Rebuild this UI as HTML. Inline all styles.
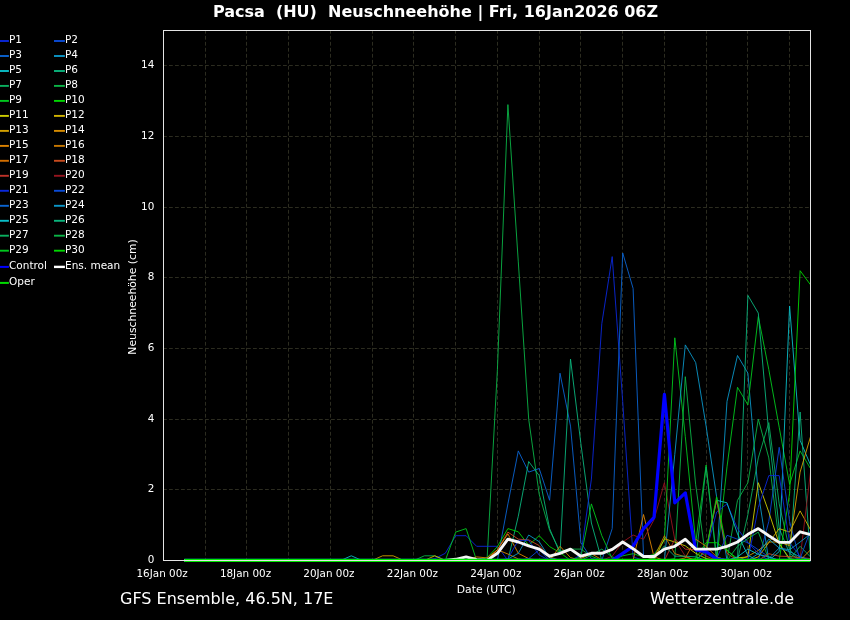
<!DOCTYPE html><html><head><meta charset="utf-8"><title>Pacsa (HU) Neuschneehöhe</title>
<style>html,body{margin:0;padding:0;background:#000;}body{width:850px;height:620px;overflow:hidden;}svg{display:block;font-family:"DejaVu Sans","Liberation Sans",sans-serif;}</style></head><body>
<svg width="850" height="620" viewBox="0 0 850 620">
<rect width="850" height="620" fill="#000"/>
<path d="M205.5 560.5V30.5M246.5 560.5V30.5M288.5 560.5V30.5M330.5 560.5V30.5M372.5 560.5V30.5M413.5 560.5V30.5M455.5 560.5V30.5M497.5 560.5V30.5M539.5 560.5V30.5M580.5 560.5V30.5M622.5 560.5V30.5M664.5 560.5V30.5M706.5 560.5V30.5M747.5 560.5V30.5M789.5 560.5V30.5" stroke="#2c2c20" stroke-width="1" stroke-dasharray="3.8 2.2" stroke-dashoffset="1.15" fill="none"/>
<path d="M163.5 489.5H810.5M163.5 419.5H810.5M163.5 348.5H810.5M163.5 277.5H810.5M163.5 207.5H810.5M163.5 136.5H810.5M163.5 65.5H810.5" stroke="#2c2c20" stroke-width="1" stroke-dasharray="3.8 2.2" stroke-dashoffset="0.5" fill="none"/>
<defs><clipPath id="c"><rect x="163.5" y="30.5" width="647" height="532"/></clipPath></defs>
<g clip-path="url(#c)" fill="none" stroke-linejoin="round">
<polyline points="184.4,560.4 194.8,560.4 205.2,560.4 215.7,560.4 226.1,560.4 236.5,560.4 247.0,560.4 257.4,560.4 267.9,560.4 278.3,560.4 288.7,560.4 299.2,560.4 309.6,560.4 320.0,560.4 330.5,560.4 340.9,560.4 351.3,560.4 361.8,560.4 372.2,560.4 382.6,560.4 393.1,560.4 403.5,560.4 414.0,560.4 424.4,560.4 434.8,560.4 445.3,560.4 455.7,560.4 466.1,560.4 476.6,560.4 487.0,560.4 497.4,369.6 507.9,104.6 518.3,261.9 528.7,419.1 539.2,494.3 549.6,530.4 560.0,551.2 570.5,549.1 580.9,549.1 591.4,556.2 601.8,560.4 612.2,560.4 622.7,560.4 633.1,560.4 643.5,560.4 654.0,560.4 664.4,560.4 674.8,560.4 685.3,560.4 695.7,560.4 706.1,560.4 716.6,560.4 727.0,560.4 737.5,560.4 747.9,560.4 758.3,560.4 768.8,560.4 779.2,560.4 789.6,560.4 800.1,560.4 810.5,560.4" stroke="#0ab446" stroke-width="0.9"/>
<polyline points="184.4,560.4 194.8,560.4 205.2,560.4 215.7,560.4 226.1,560.4 236.5,560.4 247.0,560.4 257.4,560.4 267.9,560.4 278.3,560.4 288.7,560.4 299.2,560.4 309.6,560.4 320.0,560.4 330.5,560.4 340.9,560.4 351.3,560.4 361.8,560.4 372.2,560.4 382.6,560.4 393.1,560.4 403.5,560.4 414.0,560.4 424.4,560.4 434.8,560.4 445.3,560.4 455.7,560.4 466.1,560.4 476.6,560.4 487.0,560.4 497.4,560.4 507.9,503.9 518.3,450.9 528.7,472.1 539.2,468.5 549.6,500.3 560.0,373.2 570.5,426.1 580.9,542.7 591.4,558.6 601.8,560.4 612.2,560.4 622.7,560.4 633.1,560.4 643.5,560.4 654.0,560.4 664.4,560.4 674.8,560.4 685.3,560.4 695.7,560.4 706.1,560.4 716.6,560.4 727.0,560.4 737.5,560.4 747.9,560.4 758.3,560.4 768.8,560.4 779.2,560.4 789.6,560.4 800.1,560.4 810.5,560.4" stroke="#0a64d2" stroke-width="0.9"/>
<polyline points="184.4,560.4 194.8,560.4 205.2,560.4 215.7,560.4 226.1,560.4 236.5,560.4 247.0,560.4 257.4,560.4 267.9,560.4 278.3,560.4 288.7,560.4 299.2,560.4 309.6,560.4 320.0,560.4 330.5,560.4 340.9,560.4 351.3,560.4 361.8,560.4 372.2,560.4 382.6,560.4 393.1,560.4 403.5,560.4 414.0,560.4 424.4,560.4 434.8,560.4 445.3,560.4 455.7,560.4 466.1,560.4 476.6,560.4 487.0,560.4 497.4,560.4 507.9,560.4 518.3,516.2 528.7,461.5 539.2,475.6 549.6,528.6 560.0,553.3 570.5,359.0 580.9,443.8 591.4,523.0 601.8,560.4 612.2,560.4 622.7,560.4 633.1,560.4 643.5,560.4 654.0,560.4 664.4,560.4 674.8,560.4 685.3,560.4 695.7,560.4 706.1,560.4 716.6,560.4 727.0,560.4 737.5,560.4 747.9,560.4 758.3,560.4 768.8,560.4 779.2,560.4 789.6,560.4 800.1,560.4 810.5,560.4" stroke="#0ab47d" stroke-width="0.9"/>
<polyline points="184.4,560.4 194.8,560.4 205.2,560.4 215.7,560.4 226.1,560.4 236.5,560.4 247.0,560.4 257.4,560.4 267.9,560.4 278.3,560.4 288.7,560.4 299.2,560.4 309.6,560.4 320.0,560.4 330.5,560.4 340.9,560.4 351.3,560.4 361.8,560.4 372.2,560.4 382.6,560.4 393.1,560.4 403.5,560.4 414.0,560.4 424.4,560.4 434.8,560.4 445.3,560.4 455.7,560.4 466.1,560.4 476.6,560.4 487.0,560.4 497.4,560.4 507.9,560.4 518.3,560.4 528.7,560.4 539.2,560.4 549.6,560.4 560.0,560.4 570.5,560.4 580.9,555.1 591.4,479.1 601.8,323.7 612.2,256.6 622.7,401.4 633.1,556.9 643.5,560.4 654.0,560.4 664.4,560.4 674.8,560.4 685.3,560.4 695.7,560.4 706.1,560.4 716.6,560.4 727.0,560.4 737.5,560.4 747.9,560.4 758.3,560.4 768.8,560.4 779.2,560.4 789.6,560.4 800.1,560.4 810.5,560.4" stroke="#0a28dc" stroke-width="0.9"/>
<polyline points="184.4,560.4 194.8,560.4 205.2,560.4 215.7,560.4 226.1,560.4 236.5,560.4 247.0,560.4 257.4,560.4 267.9,560.4 278.3,560.4 288.7,560.4 299.2,560.4 309.6,560.4 320.0,560.4 330.5,560.4 340.9,560.4 351.3,560.4 361.8,560.4 372.2,560.4 382.6,560.4 393.1,560.4 403.5,560.4 414.0,560.4 424.4,560.4 434.8,560.4 445.3,560.4 455.7,560.4 466.1,560.4 476.6,560.4 487.0,560.4 497.4,560.4 507.9,560.4 518.3,560.4 528.7,560.4 539.2,560.4 549.6,560.4 560.0,560.4 570.5,560.4 580.9,560.4 591.4,560.4 601.8,560.4 612.2,528.6 622.7,253.0 633.1,288.4 643.5,555.1 654.0,560.4 664.4,560.4 674.8,560.4 685.3,560.4 695.7,560.4 706.1,560.4 716.6,560.4 727.0,560.4 737.5,560.4 747.9,560.4 758.3,560.4 768.8,560.4 779.2,560.4 789.6,560.4 800.1,560.4 810.5,560.4" stroke="#0a64d2" stroke-width="0.9"/>
<polyline points="184.4,560.4 194.8,560.4 205.2,560.4 215.7,560.4 226.1,560.4 236.5,560.4 247.0,560.4 257.4,560.4 267.9,560.4 278.3,560.4 288.7,560.4 299.2,560.4 309.6,560.4 320.0,560.4 330.5,560.4 340.9,560.4 351.3,560.4 361.8,560.4 372.2,560.4 382.6,560.4 393.1,560.4 403.5,560.4 414.0,560.4 424.4,560.4 434.8,558.6 445.3,553.3 455.7,535.7 466.1,535.7 476.6,546.3 487.0,546.3 497.4,546.3 507.9,560.4 518.3,560.4 528.7,560.4 539.2,560.4 549.6,560.4 560.0,560.4 570.5,560.4 580.9,560.4 591.4,560.4 601.8,560.4 612.2,560.4 622.7,560.4 633.1,560.4 643.5,560.4 654.0,560.4 664.4,560.4 674.8,560.4 685.3,560.4 695.7,560.4 706.1,560.4 716.6,560.4 727.0,560.4 737.5,560.4 747.9,560.4 758.3,560.4 768.8,560.4 779.2,560.4 789.6,560.4 800.1,560.4 810.5,560.4" stroke="#0a28dc" stroke-width="0.9"/>
<polyline points="184.4,560.4 194.8,560.4 205.2,560.4 215.7,560.4 226.1,560.4 236.5,560.4 247.0,560.4 257.4,560.4 267.9,560.4 278.3,560.4 288.7,560.4 299.2,560.4 309.6,560.4 320.0,560.4 330.5,560.4 340.9,560.4 351.3,560.4 361.8,560.4 372.2,560.4 382.6,560.4 393.1,560.4 403.5,560.4 414.0,560.4 424.4,560.4 434.8,560.4 445.3,560.4 455.7,532.1 466.1,528.6 476.6,560.4 487.0,560.4 497.4,560.4 507.9,560.4 518.3,560.4 528.7,560.4 539.2,560.4 549.6,560.4 560.0,560.4 570.5,560.4 580.9,560.4 591.4,560.4 601.8,560.4 612.2,560.4 622.7,560.4 633.1,560.4 643.5,560.4 654.0,560.4 664.4,560.4 674.8,560.4 685.3,560.4 695.7,560.4 706.1,560.4 716.6,560.4 727.0,560.4 737.5,560.4 747.9,560.4 758.3,560.4 768.8,560.4 779.2,560.4 789.6,560.4 800.1,560.4 810.5,560.4" stroke="#00c81e" stroke-width="0.9"/>
<polyline points="184.4,560.4 194.8,560.4 205.2,560.4 215.7,560.4 226.1,560.4 236.5,560.4 247.0,560.4 257.4,560.4 267.9,560.4 278.3,560.4 288.7,560.4 299.2,560.4 309.6,560.4 320.0,560.4 330.5,560.4 340.9,560.4 351.3,560.4 361.8,560.4 372.2,560.4 382.6,560.4 393.1,560.4 403.5,560.4 414.0,560.4 424.4,555.8 434.8,555.8 445.3,560.4 455.7,560.4 466.1,560.4 476.6,560.4 487.0,560.4 497.4,560.4 507.9,560.4 518.3,560.4 528.7,560.4 539.2,560.4 549.6,560.4 560.0,560.4 570.5,560.4 580.9,560.4 591.4,560.4 601.8,560.4 612.2,560.4 622.7,560.4 633.1,560.4 643.5,560.4 654.0,560.4 664.4,560.4 674.8,560.4 685.3,560.4 695.7,560.4 706.1,560.4 716.6,560.4 727.0,560.4 737.5,560.4 747.9,560.4 758.3,560.4 768.8,560.4 779.2,560.4 789.6,560.4 800.1,560.4 810.5,560.4" stroke="#0ab446" stroke-width="0.9"/>
<polyline points="184.4,560.4 194.8,560.4 205.2,560.4 215.7,560.4 226.1,560.4 236.5,560.4 247.0,560.4 257.4,560.4 267.9,560.4 278.3,560.4 288.7,560.4 299.2,560.4 309.6,560.4 320.0,560.4 330.5,560.4 340.9,560.4 351.3,560.4 361.8,560.4 372.2,560.4 382.6,555.8 393.1,555.8 403.5,560.4 414.0,560.4 424.4,560.4 434.8,560.4 445.3,560.4 455.7,560.4 466.1,560.4 476.6,560.4 487.0,560.4 497.4,560.4 507.9,560.4 518.3,560.4 528.7,560.4 539.2,560.4 549.6,560.4 560.0,560.4 570.5,560.4 580.9,560.4 591.4,560.4 601.8,560.4 612.2,560.4 622.7,560.4 633.1,560.4 643.5,560.4 654.0,560.4 664.4,560.4 674.8,560.4 685.3,560.4 695.7,560.4 706.1,560.4 716.6,560.4 727.0,560.4 737.5,560.4 747.9,560.4 758.3,560.4 768.8,560.4 779.2,560.4 789.6,560.4 800.1,560.4 810.5,560.4" stroke="#d2a000" stroke-width="0.9"/>
<polyline points="184.4,560.4 194.8,560.4 205.2,560.4 215.7,560.4 226.1,560.4 236.5,560.4 247.0,560.4 257.4,560.4 267.9,560.4 278.3,560.4 288.7,560.4 299.2,560.4 309.6,560.4 320.0,560.4 330.5,560.4 340.9,560.4 351.3,560.4 361.8,560.4 372.2,560.4 382.6,560.4 393.1,560.4 403.5,560.4 414.0,560.4 424.4,560.4 434.8,555.8 445.3,560.4 455.7,560.4 466.1,560.4 476.6,560.4 487.0,560.4 497.4,560.4 507.9,560.4 518.3,560.4 528.7,560.4 539.2,560.4 549.6,560.4 560.0,560.4 570.5,560.4 580.9,560.4 591.4,560.4 601.8,560.4 612.2,560.4 622.7,560.4 633.1,560.4 643.5,560.4 654.0,560.4 664.4,560.4 674.8,560.4 685.3,560.4 695.7,560.4 706.1,560.4 716.6,560.4 727.0,560.4 737.5,560.4 747.9,560.4 758.3,560.4 768.8,560.4 779.2,560.4 789.6,560.4 800.1,560.4 810.5,560.4" stroke="#d2b400" stroke-width="0.9"/>
<polyline points="184.4,560.4 194.8,560.4 205.2,560.4 215.7,560.4 226.1,560.4 236.5,560.4 247.0,560.4 257.4,560.4 267.9,560.4 278.3,560.4 288.7,560.4 299.2,560.4 309.6,560.4 320.0,560.4 330.5,560.4 340.9,560.4 351.3,555.8 361.8,560.4 372.2,560.4 382.6,560.4 393.1,560.4 403.5,560.4 414.0,560.4 424.4,560.4 434.8,560.4 445.3,560.4 455.7,560.4 466.1,560.4 476.6,560.4 487.0,560.4 497.4,560.4 507.9,560.4 518.3,560.4 528.7,560.4 539.2,560.4 549.6,560.4 560.0,560.4 570.5,560.4 580.9,560.4 591.4,560.4 601.8,560.4 612.2,560.4 622.7,560.4 633.1,560.4 643.5,560.4 654.0,560.4 664.4,560.4 674.8,560.4 685.3,560.4 695.7,560.4 706.1,560.4 716.6,560.4 727.0,560.4 737.5,560.4 747.9,560.4 758.3,560.4 768.8,560.4 779.2,560.4 789.6,560.4 800.1,560.4 810.5,560.4" stroke="#0abec8" stroke-width="0.9"/>
<polyline points="184.4,560.4 194.8,560.4 205.2,560.4 215.7,560.4 226.1,560.4 236.5,560.4 247.0,560.4 257.4,560.4 267.9,560.4 278.3,560.4 288.7,560.4 299.2,560.4 309.6,560.4 320.0,560.4 330.5,560.4 340.9,560.4 351.3,560.4 361.8,560.4 372.2,560.4 382.6,560.4 393.1,560.4 403.5,560.4 414.0,560.4 424.4,560.4 434.8,560.4 445.3,560.4 455.7,560.4 466.1,560.4 476.6,560.4 487.0,557.9 497.4,546.6 507.9,528.6 518.3,531.8 528.7,545.2 539.2,535.7 549.6,546.6 560.0,552.6 570.5,560.4 580.9,560.4 591.4,560.4 601.8,560.4 612.2,560.4 622.7,560.4 633.1,560.4 643.5,560.4 654.0,560.4 664.4,560.4 674.8,560.4 685.3,560.4 695.7,560.4 706.1,560.4 716.6,560.4 727.0,560.4 737.5,560.4 747.9,560.4 758.3,560.4 768.8,560.4 779.2,560.4 789.6,560.4 800.1,560.4 810.5,560.4" stroke="#00d700" stroke-width="0.9"/>
<polyline points="184.4,560.4 194.8,560.4 205.2,560.4 215.7,560.4 226.1,560.4 236.5,560.4 247.0,560.4 257.4,560.4 267.9,560.4 278.3,560.4 288.7,560.4 299.2,560.4 309.6,560.4 320.0,560.4 330.5,560.4 340.9,560.4 351.3,560.4 361.8,560.4 372.2,560.4 382.6,560.4 393.1,560.4 403.5,560.4 414.0,560.4 424.4,560.4 434.8,560.4 445.3,560.4 455.7,560.4 466.1,560.4 476.6,560.4 487.0,560.4 497.4,549.8 507.9,532.1 518.3,539.2 528.7,539.9 539.2,545.6 549.6,556.9 560.0,560.4 570.5,560.4 580.9,560.4 591.4,560.4 601.8,560.4 612.2,560.4 622.7,560.4 633.1,560.4 643.5,560.4 654.0,560.4 664.4,560.4 674.8,560.4 685.3,560.4 695.7,560.4 706.1,560.4 716.6,560.4 727.0,560.4 737.5,560.4 747.9,560.4 758.3,560.4 768.8,560.4 779.2,560.4 789.6,560.4 800.1,560.4 810.5,560.4" stroke="#c84b1e" stroke-width="0.9"/>
<polyline points="184.4,560.4 194.8,560.4 205.2,560.4 215.7,560.4 226.1,560.4 236.5,560.4 247.0,560.4 257.4,560.4 267.9,560.4 278.3,560.4 288.7,560.4 299.2,560.4 309.6,560.4 320.0,560.4 330.5,560.4 340.9,560.4 351.3,560.4 361.8,560.4 372.2,560.4 382.6,560.4 393.1,560.4 403.5,560.4 414.0,560.4 424.4,560.4 434.8,560.4 445.3,560.4 455.7,560.4 466.1,560.4 476.6,556.9 487.0,557.9 497.4,549.8 507.9,533.9 518.3,553.3 528.7,558.6 539.2,560.4 549.6,560.4 560.0,560.4 570.5,560.4 580.9,560.4 591.4,560.4 601.8,560.4 612.2,560.4 622.7,560.4 633.1,560.4 643.5,560.4 654.0,560.4 664.4,560.4 674.8,560.4 685.3,560.4 695.7,560.4 706.1,560.4 716.6,560.4 727.0,560.4 737.5,560.4 747.9,560.4 758.3,560.4 768.8,560.4 779.2,560.4 789.6,560.4 800.1,560.4 810.5,560.4" stroke="#dc8200" stroke-width="0.9"/>
<polyline points="184.4,560.4 194.8,560.4 205.2,560.4 215.7,560.4 226.1,560.4 236.5,560.4 247.0,560.4 257.4,560.4 267.9,560.4 278.3,560.4 288.7,560.4 299.2,560.4 309.6,560.4 320.0,560.4 330.5,560.4 340.9,560.4 351.3,560.4 361.8,560.4 372.2,560.4 382.6,560.4 393.1,560.4 403.5,560.4 414.0,560.4 424.4,560.4 434.8,560.4 445.3,560.4 455.7,560.4 466.1,560.4 476.6,560.4 487.0,560.4 497.4,549.8 507.9,554.0 518.3,559.0 528.7,560.4 539.2,560.4 549.6,560.4 560.0,546.3 570.5,557.6 580.9,560.4 591.4,560.4 601.8,560.4 612.2,560.4 622.7,560.4 633.1,560.4 643.5,560.4 654.0,560.4 664.4,560.4 674.8,560.4 685.3,560.4 695.7,560.4 706.1,560.4 716.6,560.4 727.0,560.4 737.5,560.4 747.9,560.4 758.3,560.4 768.8,560.4 779.2,560.4 789.6,560.4 800.1,560.4 810.5,560.4" stroke="#d78c00" stroke-width="0.9"/>
<polyline points="184.4,560.4 194.8,560.4 205.2,560.4 215.7,560.4 226.1,560.4 236.5,560.4 247.0,560.4 257.4,560.4 267.9,560.4 278.3,560.4 288.7,560.4 299.2,560.4 309.6,560.4 320.0,560.4 330.5,560.4 340.9,560.4 351.3,560.4 361.8,560.4 372.2,560.4 382.6,560.4 393.1,560.4 403.5,560.4 414.0,560.4 424.4,560.4 434.8,560.4 445.3,560.4 455.7,560.4 466.1,560.4 476.6,560.4 487.0,560.4 497.4,560.4 507.9,560.4 518.3,560.4 528.7,560.4 539.2,560.4 549.6,560.4 560.0,560.4 570.5,560.4 580.9,556.9 591.4,503.9 601.8,535.7 612.2,558.6 622.7,560.4 633.1,560.4 643.5,560.4 654.0,560.4 664.4,560.4 674.8,560.4 685.3,560.4 695.7,560.4 706.1,560.4 716.6,560.4 727.0,560.4 737.5,560.4 747.9,560.4 758.3,560.4 768.8,560.4 779.2,560.4 789.6,560.4 800.1,560.4 810.5,560.4" stroke="#00c81e" stroke-width="0.9"/>
<polyline points="184.4,560.4 194.8,560.4 205.2,560.4 215.7,560.4 226.1,560.4 236.5,560.4 247.0,560.4 257.4,560.4 267.9,560.4 278.3,560.4 288.7,560.4 299.2,560.4 309.6,560.4 320.0,560.4 330.5,560.4 340.9,560.4 351.3,560.4 361.8,560.4 372.2,560.4 382.6,560.4 393.1,560.4 403.5,560.4 414.0,560.4 424.4,560.4 434.8,560.4 445.3,560.4 455.7,560.4 466.1,560.4 476.6,560.4 487.0,560.4 497.4,560.4 507.9,560.4 518.3,560.4 528.7,560.4 539.2,560.4 549.6,560.4 560.0,560.4 570.5,560.4 580.9,560.4 591.4,560.4 601.8,560.4 612.2,560.4 622.7,560.4 633.1,560.4 643.5,514.5 654.0,556.9 664.4,560.4 674.8,560.4 685.3,560.4 695.7,560.4 706.1,560.4 716.6,560.4 727.0,560.4 737.5,560.4 747.9,560.4 758.3,560.4 768.8,560.4 779.2,560.4 789.6,560.4 800.1,560.4 810.5,560.4" stroke="#dc8200" stroke-width="0.9"/>
<polyline points="184.4,560.4 194.8,560.4 205.2,560.4 215.7,560.4 226.1,560.4 236.5,560.4 247.0,560.4 257.4,560.4 267.9,560.4 278.3,560.4 288.7,560.4 299.2,560.4 309.6,560.4 320.0,560.4 330.5,560.4 340.9,560.4 351.3,560.4 361.8,560.4 372.2,560.4 382.6,560.4 393.1,560.4 403.5,560.4 414.0,560.4 424.4,560.4 434.8,560.4 445.3,560.4 455.7,560.4 466.1,560.4 476.6,560.4 487.0,560.4 497.4,560.4 507.9,560.4 518.3,560.4 528.7,560.4 539.2,560.4 549.6,560.4 560.0,560.4 570.5,560.4 580.9,560.4 591.4,560.4 601.8,560.4 612.2,556.2 622.7,542.0 633.1,535.0 643.5,539.2 654.0,519.8 664.4,482.7 674.8,539.6 685.3,556.2 695.7,560.4 706.1,560.4 716.6,560.4 727.0,560.4 737.5,560.4 747.9,560.4 758.3,560.4 768.8,560.4 779.2,560.4 789.6,560.4 800.1,560.4 810.5,560.4" stroke="#96141e" stroke-width="0.9"/>
<polyline points="184.4,560.4 194.8,560.4 205.2,560.4 215.7,560.4 226.1,560.4 236.5,560.4 247.0,560.4 257.4,560.4 267.9,560.4 278.3,560.4 288.7,560.4 299.2,560.4 309.6,560.4 320.0,560.4 330.5,560.4 340.9,560.4 351.3,560.4 361.8,560.4 372.2,560.4 382.6,560.4 393.1,560.4 403.5,560.4 414.0,560.4 424.4,560.4 434.8,560.4 445.3,560.4 455.7,560.4 466.1,560.4 476.6,560.4 487.0,560.4 497.4,560.4 507.9,560.4 518.3,560.4 528.7,560.4 539.2,560.4 549.6,560.4 560.0,560.4 570.5,560.4 580.9,560.4 591.4,560.4 601.8,560.4 612.2,560.4 622.7,555.8 633.1,553.7 643.5,556.9 654.0,554.4 664.4,540.3 674.8,337.8 685.3,436.7 695.7,542.7 706.1,465.0 716.6,556.9 727.0,560.4 737.5,560.4 747.9,560.4 758.3,560.4 768.8,560.4 779.2,560.4 789.6,560.4 800.1,560.4 810.5,560.4" stroke="#00c81e" stroke-width="0.9"/>
<polyline points="184.4,560.4 194.8,560.4 205.2,560.4 215.7,560.4 226.1,560.4 236.5,560.4 247.0,560.4 257.4,560.4 267.9,560.4 278.3,560.4 288.7,560.4 299.2,560.4 309.6,560.4 320.0,560.4 330.5,560.4 340.9,560.4 351.3,560.4 361.8,560.4 372.2,560.4 382.6,560.4 393.1,560.4 403.5,560.4 414.0,560.4 424.4,560.4 434.8,560.4 445.3,560.4 455.7,560.4 466.1,560.4 476.6,560.4 487.0,560.4 497.4,560.4 507.9,560.4 518.3,560.4 528.7,560.4 539.2,560.4 549.6,560.4 560.0,560.4 570.5,560.4 580.9,560.4 591.4,560.4 601.8,560.4 612.2,560.4 622.7,560.4 633.1,560.4 643.5,560.4 654.0,560.4 664.4,560.4 674.8,558.6 685.3,376.7 695.7,484.8 706.1,560.4 716.6,560.4 727.0,560.4 737.5,560.4 747.9,560.4 758.3,560.4 768.8,560.4 779.2,560.4 789.6,560.4 800.1,560.4 810.5,560.4" stroke="#0ab446" stroke-width="0.9"/>
<polyline points="184.4,560.4 194.8,560.4 205.2,560.4 215.7,560.4 226.1,560.4 236.5,560.4 247.0,560.4 257.4,560.4 267.9,560.4 278.3,560.4 288.7,560.4 299.2,560.4 309.6,560.4 320.0,560.4 330.5,560.4 340.9,560.4 351.3,560.4 361.8,560.4 372.2,560.4 382.6,560.4 393.1,560.4 403.5,560.4 414.0,560.4 424.4,560.4 434.8,560.4 445.3,560.4 455.7,560.4 466.1,560.4 476.6,560.4 487.0,560.4 497.4,560.4 507.9,560.4 518.3,560.4 528.7,560.4 539.2,560.4 549.6,560.4 560.0,560.4 570.5,560.4 580.9,560.4 591.4,560.4 601.8,560.4 612.2,560.4 622.7,560.4 633.1,560.4 643.5,560.4 654.0,560.4 664.4,560.4 674.8,560.4 685.3,560.4 695.7,560.4 706.1,466.8 716.6,560.4 727.0,560.4 737.5,560.4 747.9,560.4 758.3,560.4 768.8,560.4 779.2,560.4 789.6,560.4 800.1,560.4 810.5,560.4" stroke="#0aaf5f" stroke-width="0.9"/>
<polyline points="184.4,560.4 194.8,560.4 205.2,560.4 215.7,560.4 226.1,560.4 236.5,560.4 247.0,560.4 257.4,560.4 267.9,560.4 278.3,560.4 288.7,560.4 299.2,560.4 309.6,560.4 320.0,560.4 330.5,560.4 340.9,560.4 351.3,560.4 361.8,560.4 372.2,560.4 382.6,560.4 393.1,560.4 403.5,560.4 414.0,560.4 424.4,560.4 434.8,560.4 445.3,560.4 455.7,560.4 466.1,560.4 476.6,560.4 487.0,560.4 497.4,560.4 507.9,560.4 518.3,560.4 528.7,560.4 539.2,560.4 549.6,560.4 560.0,560.4 570.5,560.4 580.9,560.4 591.4,560.4 601.8,560.4 612.2,560.4 622.7,560.4 633.1,560.4 643.5,560.4 654.0,560.4 664.4,560.4 674.8,454.4 685.3,344.9 695.7,362.6 706.1,426.1 716.6,496.8 727.0,560.4 737.5,560.4 747.9,560.4 758.3,560.4 768.8,560.4 779.2,560.4 789.6,560.4 800.1,560.4 810.5,560.4" stroke="#0a96c8" stroke-width="0.9"/>
<polyline points="184.4,560.4 194.8,560.4 205.2,560.4 215.7,560.4 226.1,560.4 236.5,560.4 247.0,560.4 257.4,560.4 267.9,560.4 278.3,560.4 288.7,560.4 299.2,560.4 309.6,560.4 320.0,560.4 330.5,560.4 340.9,560.4 351.3,560.4 361.8,560.4 372.2,560.4 382.6,560.4 393.1,560.4 403.5,560.4 414.0,560.4 424.4,560.4 434.8,560.4 445.3,560.4 455.7,560.4 466.1,560.4 476.6,560.4 487.0,560.4 497.4,560.4 507.9,560.4 518.3,560.4 528.7,560.4 539.2,560.4 549.6,560.4 560.0,560.4 570.5,560.4 580.9,560.4 591.4,560.4 601.8,560.4 612.2,560.4 622.7,560.4 633.1,560.4 643.5,560.4 654.0,560.4 664.4,560.4 674.8,560.4 685.3,560.4 695.7,560.4 706.1,560.4 716.6,560.4 727.0,401.4 737.5,355.5 747.9,373.2 758.3,493.3 768.8,560.4 779.2,560.4 789.6,560.4 800.1,560.4 810.5,560.4" stroke="#0a96c8" stroke-width="0.9"/>
<polyline points="184.4,560.4 194.8,560.4 205.2,560.4 215.7,560.4 226.1,560.4 236.5,560.4 247.0,560.4 257.4,560.4 267.9,560.4 278.3,560.4 288.7,560.4 299.2,560.4 309.6,560.4 320.0,560.4 330.5,560.4 340.9,560.4 351.3,560.4 361.8,560.4 372.2,560.4 382.6,560.4 393.1,560.4 403.5,560.4 414.0,560.4 424.4,560.4 434.8,560.4 445.3,560.4 455.7,560.4 466.1,560.4 476.6,560.4 487.0,560.4 497.4,560.4 507.9,560.4 518.3,560.4 528.7,560.4 539.2,560.4 549.6,560.4 560.0,560.4 570.5,560.4 580.9,560.4 591.4,560.4 601.8,560.4 612.2,560.4 622.7,560.4 633.1,560.4 643.5,560.4 654.0,560.4 664.4,560.4 674.8,560.4 685.3,560.4 695.7,560.4 706.1,560.4 716.6,560.4 727.0,466.8 737.5,387.3 747.9,404.9 758.3,316.6 768.8,369.6 779.2,427.2 789.6,484.4 800.1,450.9 810.5,468.5" stroke="#00c81e" stroke-width="0.9"/>
<polyline points="184.4,560.4 194.8,560.4 205.2,560.4 215.7,560.4 226.1,560.4 236.5,560.4 247.0,560.4 257.4,560.4 267.9,560.4 278.3,560.4 288.7,560.4 299.2,560.4 309.6,560.4 320.0,560.4 330.5,560.4 340.9,560.4 351.3,560.4 361.8,560.4 372.2,560.4 382.6,560.4 393.1,560.4 403.5,560.4 414.0,560.4 424.4,560.4 434.8,560.4 445.3,560.4 455.7,560.4 466.1,560.4 476.6,560.4 487.0,560.4 497.4,560.4 507.9,560.4 518.3,560.4 528.7,560.4 539.2,560.4 549.6,560.4 560.0,560.4 570.5,560.4 580.9,560.4 591.4,560.4 601.8,560.4 612.2,560.4 622.7,560.4 633.1,560.4 643.5,560.4 654.0,560.4 664.4,560.4 674.8,560.4 685.3,560.4 695.7,560.4 706.1,560.4 716.6,560.4 727.0,560.4 737.5,560.4 747.9,295.4 758.3,313.1 768.8,433.2 779.2,528.6 789.6,553.3 800.1,560.4 810.5,560.4" stroke="#0ab47d" stroke-width="0.9"/>
<polyline points="184.4,560.4 194.8,560.4 205.2,560.4 215.7,560.4 226.1,560.4 236.5,560.4 247.0,560.4 257.4,560.4 267.9,560.4 278.3,560.4 288.7,560.4 299.2,560.4 309.6,560.4 320.0,560.4 330.5,560.4 340.9,560.4 351.3,560.4 361.8,560.4 372.2,560.4 382.6,560.4 393.1,560.4 403.5,560.4 414.0,560.4 424.4,560.4 434.8,560.4 445.3,560.4 455.7,560.4 466.1,560.4 476.6,560.4 487.0,560.4 497.4,560.4 507.9,560.4 518.3,560.4 528.7,560.4 539.2,560.4 549.6,560.4 560.0,560.4 570.5,560.4 580.9,560.4 591.4,560.4 601.8,560.4 612.2,560.4 622.7,560.4 633.1,560.4 643.5,560.4 654.0,560.4 664.4,560.4 674.8,560.4 685.3,560.4 695.7,560.4 706.1,560.4 716.6,560.4 727.0,560.4 737.5,500.3 747.9,482.7 758.3,419.1 768.8,457.9 779.2,542.7 789.6,560.4 800.1,560.4 810.5,560.4" stroke="#0ab446" stroke-width="0.9"/>
<polyline points="184.4,560.4 194.8,560.4 205.2,560.4 215.7,560.4 226.1,560.4 236.5,560.4 247.0,560.4 257.4,560.4 267.9,560.4 278.3,560.4 288.7,560.4 299.2,560.4 309.6,560.4 320.0,560.4 330.5,560.4 340.9,560.4 351.3,560.4 361.8,560.4 372.2,560.4 382.6,560.4 393.1,560.4 403.5,560.4 414.0,560.4 424.4,560.4 434.8,560.4 445.3,560.4 455.7,560.4 466.1,560.4 476.6,560.4 487.0,560.4 497.4,560.4 507.9,560.4 518.3,560.4 528.7,560.4 539.2,560.4 549.6,560.4 560.0,560.4 570.5,560.4 580.9,560.4 591.4,560.4 601.8,560.4 612.2,560.4 622.7,560.4 633.1,560.4 643.5,560.4 654.0,560.4 664.4,560.4 674.8,560.4 685.3,560.4 695.7,560.4 706.1,560.4 716.6,560.4 727.0,560.4 737.5,560.4 747.9,514.5 758.3,457.9 768.8,422.6 779.2,503.9 789.6,549.8 800.1,560.4 810.5,560.4" stroke="#0aaf5f" stroke-width="0.9"/>
<polyline points="184.4,560.4 194.8,560.4 205.2,560.4 215.7,560.4 226.1,560.4 236.5,560.4 247.0,560.4 257.4,560.4 267.9,560.4 278.3,560.4 288.7,560.4 299.2,560.4 309.6,560.4 320.0,560.4 330.5,560.4 340.9,560.4 351.3,560.4 361.8,560.4 372.2,560.4 382.6,560.4 393.1,560.4 403.5,560.4 414.0,560.4 424.4,560.4 434.8,560.4 445.3,560.4 455.7,560.4 466.1,560.4 476.6,560.4 487.0,560.4 497.4,560.4 507.9,560.4 518.3,560.4 528.7,560.4 539.2,560.4 549.6,560.4 560.0,560.4 570.5,560.4 580.9,560.4 591.4,560.4 601.8,560.4 612.2,560.4 622.7,560.4 633.1,560.4 643.5,560.4 654.0,560.4 664.4,560.4 674.8,560.4 685.3,560.4 695.7,560.4 706.1,560.4 716.6,560.4 727.0,560.4 737.5,560.4 747.9,560.4 758.3,560.4 768.8,560.4 779.2,551.6 789.6,306.0 800.1,440.3 810.5,465.0" stroke="#0abec8" stroke-width="0.9"/>
<polyline points="184.4,560.4 194.8,560.4 205.2,560.4 215.7,560.4 226.1,560.4 236.5,560.4 247.0,560.4 257.4,560.4 267.9,560.4 278.3,560.4 288.7,560.4 299.2,560.4 309.6,560.4 320.0,560.4 330.5,560.4 340.9,560.4 351.3,560.4 361.8,560.4 372.2,560.4 382.6,560.4 393.1,560.4 403.5,560.4 414.0,560.4 424.4,560.4 434.8,560.4 445.3,560.4 455.7,560.4 466.1,560.4 476.6,560.4 487.0,560.4 497.4,560.4 507.9,560.4 518.3,560.4 528.7,560.4 539.2,560.4 549.6,560.4 560.0,560.4 570.5,560.4 580.9,560.4 591.4,560.4 601.8,560.4 612.2,560.4 622.7,560.4 633.1,560.4 643.5,560.4 654.0,560.4 664.4,560.4 674.8,560.4 685.3,560.4 695.7,560.4 706.1,560.4 716.6,560.4 727.0,560.4 737.5,560.4 747.9,560.4 758.3,560.4 768.8,560.4 779.2,560.4 789.6,493.3 800.1,270.7 810.5,284.8" stroke="#00d700" stroke-width="0.9"/>
<polyline points="184.4,560.4 194.8,560.4 205.2,560.4 215.7,560.4 226.1,560.4 236.5,560.4 247.0,560.4 257.4,560.4 267.9,560.4 278.3,560.4 288.7,560.4 299.2,560.4 309.6,560.4 320.0,560.4 330.5,560.4 340.9,560.4 351.3,560.4 361.8,560.4 372.2,560.4 382.6,560.4 393.1,560.4 403.5,560.4 414.0,560.4 424.4,560.4 434.8,560.4 445.3,560.4 455.7,560.4 466.1,560.4 476.6,560.4 487.0,560.4 497.4,560.4 507.9,560.4 518.3,560.4 528.7,560.4 539.2,560.4 549.6,560.4 560.0,560.4 570.5,560.4 580.9,560.4 591.4,560.4 601.8,560.4 612.2,560.4 622.7,560.4 633.1,560.4 643.5,560.4 654.0,560.4 664.4,560.4 674.8,560.4 685.3,560.4 695.7,560.4 706.1,560.4 716.6,560.4 727.0,560.4 737.5,560.4 747.9,560.4 758.3,560.4 768.8,560.4 779.2,560.4 789.6,560.4 800.1,412.0 810.5,558.6" stroke="#0ab47d" stroke-width="0.9"/>
<polyline points="184.4,560.4 194.8,560.4 205.2,560.4 215.7,560.4 226.1,560.4 236.5,560.4 247.0,560.4 257.4,560.4 267.9,560.4 278.3,560.4 288.7,560.4 299.2,560.4 309.6,560.4 320.0,560.4 330.5,560.4 340.9,560.4 351.3,560.4 361.8,560.4 372.2,560.4 382.6,560.4 393.1,560.4 403.5,560.4 414.0,560.4 424.4,560.4 434.8,560.4 445.3,560.4 455.7,560.4 466.1,560.4 476.6,560.4 487.0,560.4 497.4,560.4 507.9,560.4 518.3,560.4 528.7,560.4 539.2,560.4 549.6,560.4 560.0,560.4 570.5,560.4 580.9,560.4 591.4,560.4 601.8,560.4 612.2,560.4 622.7,560.4 633.1,560.4 643.5,560.4 654.0,560.4 664.4,560.4 674.8,560.4 685.3,560.4 695.7,560.4 706.1,560.4 716.6,560.4 727.0,560.4 737.5,560.4 747.9,560.4 758.3,560.4 768.8,521.5 779.2,447.3 789.6,521.5 800.1,560.4 810.5,560.4" stroke="#0a4bd7" stroke-width="0.9"/>
<polyline points="184.4,560.4 194.8,560.4 205.2,560.4 215.7,560.4 226.1,560.4 236.5,560.4 247.0,560.4 257.4,560.4 267.9,560.4 278.3,560.4 288.7,560.4 299.2,560.4 309.6,560.4 320.0,560.4 330.5,560.4 340.9,560.4 351.3,560.4 361.8,560.4 372.2,560.4 382.6,560.4 393.1,560.4 403.5,560.4 414.0,560.4 424.4,560.4 434.8,560.4 445.3,560.4 455.7,560.4 466.1,560.4 476.6,560.4 487.0,560.4 497.4,560.4 507.9,560.4 518.3,560.4 528.7,560.4 539.2,560.4 549.6,560.4 560.0,560.4 570.5,560.4 580.9,560.4 591.4,560.4 601.8,560.4 612.2,560.4 622.7,560.4 633.1,560.4 643.5,560.4 654.0,560.4 664.4,538.8 674.8,542.0 685.3,545.9 695.7,553.3 706.1,558.6 716.6,560.4 727.0,560.4 737.5,557.9 747.9,556.9 758.3,482.7 768.8,512.0 779.2,543.8 789.6,558.6 800.1,560.4 810.5,560.4" stroke="#cdcd00" stroke-width="0.9"/>
<polyline points="184.4,560.4 194.8,560.4 205.2,560.4 215.7,560.4 226.1,560.4 236.5,560.4 247.0,560.4 257.4,560.4 267.9,560.4 278.3,560.4 288.7,560.4 299.2,560.4 309.6,560.4 320.0,560.4 330.5,560.4 340.9,560.4 351.3,560.4 361.8,560.4 372.2,560.4 382.6,560.4 393.1,560.4 403.5,560.4 414.0,560.4 424.4,560.4 434.8,560.4 445.3,560.4 455.7,560.4 466.1,560.4 476.6,560.4 487.0,560.4 497.4,560.4 507.9,560.4 518.3,560.4 528.7,560.4 539.2,560.4 549.6,560.4 560.0,560.4 570.5,560.4 580.9,560.4 591.4,560.4 601.8,560.4 612.2,560.4 622.7,560.4 633.1,560.4 643.5,560.4 654.0,560.4 664.4,560.4 674.8,560.4 685.3,560.4 695.7,560.4 706.1,560.4 716.6,560.4 727.0,560.4 737.5,560.4 747.9,560.4 758.3,556.9 768.8,542.7 779.2,528.6 789.6,532.1 800.1,510.9 810.5,529.7" stroke="#d2b400" stroke-width="0.9"/>
<polyline points="184.4,560.4 194.8,560.4 205.2,560.4 215.7,560.4 226.1,560.4 236.5,560.4 247.0,560.4 257.4,560.4 267.9,560.4 278.3,560.4 288.7,560.4 299.2,560.4 309.6,560.4 320.0,560.4 330.5,560.4 340.9,560.4 351.3,560.4 361.8,560.4 372.2,560.4 382.6,560.4 393.1,560.4 403.5,560.4 414.0,560.4 424.4,560.4 434.8,560.4 445.3,560.4 455.7,560.4 466.1,560.4 476.6,560.4 487.0,560.4 497.4,560.4 507.9,560.4 518.3,560.4 528.7,560.4 539.2,560.4 549.6,560.4 560.0,560.4 570.5,560.4 580.9,560.4 591.4,560.4 601.8,560.4 612.2,560.4 622.7,560.4 633.1,560.4 643.5,560.4 654.0,560.4 664.4,560.4 674.8,560.4 685.3,560.4 695.7,560.4 706.1,560.4 716.6,560.4 727.0,560.4 737.5,560.4 747.9,556.2 758.3,550.5 768.8,542.0 779.2,542.0 789.6,545.6 800.1,472.1 810.5,436.7" stroke="#d2a000" stroke-width="0.9"/>
<polyline points="184.4,560.4 194.8,560.4 205.2,560.4 215.7,560.4 226.1,560.4 236.5,560.4 247.0,560.4 257.4,560.4 267.9,560.4 278.3,560.4 288.7,560.4 299.2,560.4 309.6,560.4 320.0,560.4 330.5,560.4 340.9,560.4 351.3,560.4 361.8,560.4 372.2,560.4 382.6,560.4 393.1,560.4 403.5,560.4 414.0,560.4 424.4,560.4 434.8,560.4 445.3,560.4 455.7,560.4 466.1,560.4 476.6,560.4 487.0,560.4 497.4,560.4 507.9,560.4 518.3,560.4 528.7,560.4 539.2,560.4 549.6,560.4 560.0,560.4 570.5,560.4 580.9,560.4 591.4,560.4 601.8,560.4 612.2,560.4 622.7,560.4 633.1,560.4 643.5,560.4 654.0,560.4 664.4,560.4 674.8,560.4 685.3,560.4 695.7,560.4 706.1,560.4 716.6,560.4 727.0,560.4 737.5,560.4 747.9,560.4 758.3,507.4 768.8,475.6 779.2,475.6 789.6,542.7 800.1,556.2 810.5,560.4" stroke="#0a28dc" stroke-width="0.9"/>
<polyline points="184.4,560.4 194.8,560.4 205.2,560.4 215.7,560.4 226.1,560.4 236.5,560.4 247.0,560.4 257.4,560.4 267.9,560.4 278.3,560.4 288.7,560.4 299.2,560.4 309.6,560.4 320.0,560.4 330.5,560.4 340.9,560.4 351.3,560.4 361.8,560.4 372.2,560.4 382.6,560.4 393.1,560.4 403.5,560.4 414.0,560.4 424.4,560.4 434.8,560.4 445.3,560.4 455.7,560.4 466.1,560.4 476.6,560.4 487.0,560.4 497.4,560.4 507.9,560.4 518.3,560.4 528.7,560.4 539.2,560.4 549.6,560.4 560.0,560.4 570.5,560.4 580.9,560.4 591.4,560.4 601.8,560.4 612.2,560.4 622.7,560.4 633.1,560.4 643.5,560.4 654.0,560.4 664.4,560.4 674.8,560.4 685.3,560.4 695.7,560.4 706.1,560.4 716.6,560.4 727.0,560.4 737.5,560.4 747.9,560.4 758.3,560.4 768.8,560.4 779.2,560.4 789.6,560.4 800.1,558.6 810.5,472.1" stroke="#96141e" stroke-width="0.9"/>
<polyline points="184.4,560.4 194.8,560.4 205.2,560.4 215.7,560.4 226.1,560.4 236.5,560.4 247.0,560.4 257.4,560.4 267.9,560.4 278.3,560.4 288.7,560.4 299.2,560.4 309.6,560.4 320.0,560.4 330.5,560.4 340.9,560.4 351.3,560.4 361.8,560.4 372.2,560.4 382.6,560.4 393.1,560.4 403.5,560.4 414.0,560.4 424.4,560.4 434.8,560.4 445.3,560.4 455.7,560.4 466.1,560.4 476.6,560.4 487.0,560.4 497.4,560.4 507.9,560.4 518.3,560.4 528.7,560.4 539.2,560.4 549.6,560.4 560.0,560.4 570.5,560.4 580.9,560.4 591.4,560.4 601.8,560.4 612.2,560.4 622.7,560.4 633.1,560.4 643.5,560.4 654.0,560.4 664.4,560.4 674.8,560.4 685.3,560.4 695.7,560.4 706.1,551.6 716.6,512.0 727.0,503.9 737.5,528.6 747.9,542.7 758.3,553.3 768.8,560.4 779.2,560.4 789.6,560.4 800.1,560.4 810.5,560.4" stroke="#0a28dc" stroke-width="0.9"/>
<polyline points="184.4,560.4 194.8,560.4 205.2,560.4 215.7,560.4 226.1,560.4 236.5,560.4 247.0,560.4 257.4,560.4 267.9,560.4 278.3,560.4 288.7,560.4 299.2,560.4 309.6,560.4 320.0,560.4 330.5,560.4 340.9,560.4 351.3,560.4 361.8,560.4 372.2,560.4 382.6,560.4 393.1,560.4 403.5,560.4 414.0,560.4 424.4,560.4 434.8,560.4 445.3,560.4 455.7,560.4 466.1,560.4 476.6,560.4 487.0,560.4 497.4,560.4 507.9,560.4 518.3,560.4 528.7,560.4 539.2,560.4 549.6,560.4 560.0,560.4 570.5,560.4 580.9,560.4 591.4,560.4 601.8,560.4 612.2,560.4 622.7,560.4 633.1,560.4 643.5,560.4 654.0,560.4 664.4,560.4 674.8,560.4 685.3,560.4 695.7,560.4 706.1,549.8 716.6,500.3 727.0,502.8 737.5,533.9 747.9,555.5 758.3,560.4 768.8,560.4 779.2,560.4 789.6,560.4 800.1,560.4 810.5,560.4" stroke="#0abec8" stroke-width="0.9"/>
<polyline points="184.4,560.4 194.8,560.4 205.2,560.4 215.7,560.4 226.1,560.4 236.5,560.4 247.0,560.4 257.4,560.4 267.9,560.4 278.3,560.4 288.7,560.4 299.2,560.4 309.6,560.4 320.0,560.4 330.5,560.4 340.9,560.4 351.3,560.4 361.8,560.4 372.2,560.4 382.6,560.4 393.1,560.4 403.5,560.4 414.0,560.4 424.4,560.4 434.8,560.4 445.3,560.4 455.7,560.4 466.1,560.4 476.6,560.4 487.0,560.4 497.4,560.4 507.9,560.4 518.3,560.4 528.7,560.4 539.2,560.4 549.6,560.4 560.0,560.4 570.5,560.4 580.9,560.4 591.4,560.4 601.8,560.4 612.2,560.4 622.7,560.4 633.1,560.4 643.5,560.4 654.0,560.4 664.4,560.4 674.8,560.4 685.3,560.4 695.7,560.4 706.1,549.8 716.6,500.3 727.0,553.3 737.5,560.4 747.9,560.4 758.3,560.4 768.8,560.4 779.2,560.4 789.6,560.4 800.1,560.4 810.5,560.4" stroke="#c84b1e" stroke-width="0.9"/>
<polyline points="184.4,560.4 194.8,560.4 205.2,560.4 215.7,560.4 226.1,560.4 236.5,560.4 247.0,560.4 257.4,560.4 267.9,560.4 278.3,560.4 288.7,560.4 299.2,560.4 309.6,560.4 320.0,560.4 330.5,560.4 340.9,560.4 351.3,560.4 361.8,560.4 372.2,560.4 382.6,560.4 393.1,560.4 403.5,560.4 414.0,560.4 424.4,560.4 434.8,560.4 445.3,560.4 455.7,560.4 466.1,560.4 476.6,560.4 487.0,560.4 497.4,560.4 507.9,560.4 518.3,560.4 528.7,560.4 539.2,560.4 549.6,560.4 560.0,560.4 570.5,560.4 580.9,560.4 591.4,560.4 601.8,560.4 612.2,560.4 622.7,560.4 633.1,560.4 643.5,560.4 654.0,560.4 664.4,560.4 674.8,560.4 685.3,560.4 695.7,560.4 706.1,549.8 716.6,496.8 727.0,549.8 737.5,560.4 747.9,560.4 758.3,560.4 768.8,560.4 779.2,560.4 789.6,560.4 800.1,560.4 810.5,560.4" stroke="#00d700" stroke-width="0.9"/>
<polyline points="184.4,560.4 194.8,560.4 205.2,560.4 215.7,560.4 226.1,560.4 236.5,560.4 247.0,560.4 257.4,560.4 267.9,560.4 278.3,560.4 288.7,560.4 299.2,560.4 309.6,560.4 320.0,560.4 330.5,560.4 340.9,560.4 351.3,560.4 361.8,560.4 372.2,560.4 382.6,560.4 393.1,560.4 403.5,560.4 414.0,560.4 424.4,560.4 434.8,560.4 445.3,560.4 455.7,560.4 466.1,560.4 476.6,560.4 487.0,560.4 497.4,560.4 507.9,559.0 518.3,553.3 528.7,535.0 539.2,541.7 549.6,557.9 560.0,560.4 570.5,560.4 580.9,560.4 591.4,560.4 601.8,560.4 612.2,560.4 622.7,560.4 633.1,560.4 643.5,560.4 654.0,560.4 664.4,560.4 674.8,560.4 685.3,560.4 695.7,560.4 706.1,560.4 716.6,560.4 727.0,560.4 737.5,560.4 747.9,560.4 758.3,560.4 768.8,560.4 779.2,560.4 789.6,560.4 800.1,560.4 810.5,560.4" stroke="#0a96c8" stroke-width="0.9"/>
<polyline points="184.4,560.4 194.8,560.4 205.2,560.4 215.7,560.4 226.1,560.4 236.5,560.4 247.0,560.4 257.4,560.4 267.9,560.4 278.3,560.4 288.7,560.4 299.2,560.4 309.6,560.4 320.0,560.4 330.5,560.4 340.9,560.4 351.3,560.4 361.8,560.4 372.2,560.4 382.6,560.4 393.1,560.4 403.5,560.4 414.0,560.4 424.4,560.4 434.8,560.4 445.3,560.4 455.7,560.4 466.1,560.4 476.6,560.4 487.0,560.4 497.4,560.4 507.9,558.6 518.3,540.3 528.7,540.3 539.2,555.1 549.6,560.4 560.0,560.4 570.5,560.4 580.9,560.4 591.4,560.4 601.8,560.4 612.2,560.4 622.7,560.4 633.1,560.4 643.5,560.4 654.0,560.4 664.4,560.4 674.8,560.4 685.3,560.4 695.7,560.4 706.1,560.4 716.6,560.4 727.0,560.4 737.5,560.4 747.9,560.4 758.3,560.4 768.8,560.4 779.2,560.4 789.6,560.4 800.1,560.4 810.5,560.4" stroke="#0a28dc" stroke-width="0.9"/>
<polyline points="184.4,560.4 194.8,560.4 205.2,560.4 215.7,560.4 226.1,560.4 236.5,560.4 247.0,560.4 257.4,560.4 267.9,560.4 278.3,560.4 288.7,560.4 299.2,560.4 309.6,560.4 320.0,560.4 330.5,560.4 340.9,560.4 351.3,560.4 361.8,560.4 372.2,560.4 382.6,560.4 393.1,560.4 403.5,560.4 414.0,560.4 424.4,560.4 434.8,560.4 445.3,560.4 455.7,560.4 466.1,560.4 476.6,560.4 487.0,560.4 497.4,560.4 507.9,560.4 518.3,560.4 528.7,558.6 539.2,549.8 549.6,560.4 560.0,560.4 570.5,560.4 580.9,560.4 591.4,560.4 601.8,560.4 612.2,560.4 622.7,560.4 633.1,560.4 643.5,560.4 654.0,560.4 664.4,560.4 674.8,560.4 685.3,560.4 695.7,560.4 706.1,560.4 716.6,560.4 727.0,560.4 737.5,560.4 747.9,560.4 758.3,560.4 768.8,560.4 779.2,560.4 789.6,560.4 800.1,560.4 810.5,560.4" stroke="#0a4bd7" stroke-width="0.9"/>
<polyline points="184.4,560.4 194.8,560.4 205.2,560.4 215.7,560.4 226.1,560.4 236.5,560.4 247.0,560.4 257.4,560.4 267.9,560.4 278.3,560.4 288.7,560.4 299.2,560.4 309.6,560.4 320.0,560.4 330.5,560.4 340.9,560.4 351.3,560.4 361.8,560.4 372.2,560.4 382.6,560.4 393.1,560.4 403.5,560.4 414.0,560.4 424.4,560.4 434.8,560.4 445.3,560.4 455.7,560.4 466.1,560.4 476.6,560.4 487.0,560.4 497.4,560.4 507.9,560.4 518.3,560.4 528.7,560.4 539.2,560.4 549.6,560.4 560.0,560.4 570.5,560.4 580.9,558.6 591.4,553.7 601.8,559.7 612.2,560.4 622.7,560.4 633.1,560.4 643.5,560.4 654.0,560.4 664.4,560.4 674.8,560.4 685.3,560.4 695.7,560.4 706.1,560.4 716.6,560.4 727.0,560.4 737.5,560.4 747.9,560.4 758.3,560.4 768.8,560.4 779.2,560.4 789.6,560.4 800.1,560.4 810.5,560.4" stroke="#d78c00" stroke-width="0.9"/>
<polyline points="184.4,560.4 194.8,560.4 205.2,560.4 215.7,560.4 226.1,560.4 236.5,560.4 247.0,560.4 257.4,560.4 267.9,560.4 278.3,560.4 288.7,560.4 299.2,560.4 309.6,560.4 320.0,560.4 330.5,560.4 340.9,560.4 351.3,560.4 361.8,560.4 372.2,560.4 382.6,560.4 393.1,560.4 403.5,560.4 414.0,560.4 424.4,560.4 434.8,560.4 445.3,560.4 455.7,560.4 466.1,560.4 476.6,560.4 487.0,560.4 497.4,560.4 507.9,560.4 518.3,560.4 528.7,560.4 539.2,560.4 549.6,560.4 560.0,560.4 570.5,560.4 580.9,560.4 591.4,555.1 601.8,549.1 612.2,556.9 622.7,560.4 633.1,560.4 643.5,560.4 654.0,560.4 664.4,560.4 674.8,560.4 685.3,560.4 695.7,560.4 706.1,560.4 716.6,560.4 727.0,560.4 737.5,560.4 747.9,560.4 758.3,560.4 768.8,560.4 779.2,560.4 789.6,560.4 800.1,560.4 810.5,560.4" stroke="#0aaf5f" stroke-width="0.9"/>
<polyline points="184.4,560.4 194.8,560.4 205.2,560.4 215.7,560.4 226.1,560.4 236.5,560.4 247.0,560.4 257.4,560.4 267.9,560.4 278.3,560.4 288.7,560.4 299.2,560.4 309.6,560.4 320.0,560.4 330.5,560.4 340.9,560.4 351.3,560.4 361.8,560.4 372.2,560.4 382.6,560.4 393.1,560.4 403.5,560.4 414.0,560.4 424.4,560.4 434.8,560.4 445.3,560.4 455.7,560.4 466.1,560.4 476.6,560.4 487.0,560.4 497.4,560.4 507.9,560.4 518.3,560.4 528.7,560.4 539.2,560.4 549.6,560.4 560.0,560.4 570.5,560.4 580.9,560.4 591.4,560.4 601.8,560.4 612.2,560.4 622.7,560.4 633.1,560.4 643.5,560.4 654.0,560.4 664.4,560.4 674.8,539.2 685.3,549.1 695.7,549.8 706.1,556.2 716.6,560.4 727.0,560.4 737.5,560.4 747.9,560.4 758.3,560.4 768.8,560.4 779.2,560.4 789.6,560.4 800.1,560.4 810.5,560.4" stroke="#be3228" stroke-width="0.9"/>
<polyline points="184.4,560.4 194.8,560.4 205.2,560.4 215.7,560.4 226.1,560.4 236.5,560.4 247.0,560.4 257.4,560.4 267.9,560.4 278.3,560.4 288.7,560.4 299.2,560.4 309.6,560.4 320.0,560.4 330.5,560.4 340.9,560.4 351.3,560.4 361.8,560.4 372.2,560.4 382.6,560.4 393.1,560.4 403.5,560.4 414.0,560.4 424.4,560.4 434.8,560.4 445.3,560.4 455.7,560.4 466.1,560.4 476.6,560.4 487.0,560.4 497.4,560.4 507.9,560.4 518.3,560.4 528.7,560.4 539.2,560.4 549.6,560.4 560.0,560.4 570.5,560.4 580.9,560.4 591.4,560.4 601.8,560.4 612.2,560.4 622.7,560.4 633.1,560.4 643.5,560.4 654.0,557.9 664.4,535.7 674.8,553.7 685.3,556.9 695.7,560.4 706.1,560.4 716.6,560.4 727.0,560.4 737.5,560.4 747.9,560.4 758.3,560.4 768.8,560.4 779.2,560.4 789.6,560.4 800.1,560.4 810.5,560.4" stroke="#c87800" stroke-width="0.9"/>
<polyline points="184.4,560.4 194.8,560.4 205.2,560.4 215.7,560.4 226.1,560.4 236.5,560.4 247.0,560.4 257.4,560.4 267.9,560.4 278.3,560.4 288.7,560.4 299.2,560.4 309.6,560.4 320.0,560.4 330.5,560.4 340.9,560.4 351.3,560.4 361.8,560.4 372.2,560.4 382.6,560.4 393.1,560.4 403.5,560.4 414.0,560.4 424.4,560.4 434.8,560.4 445.3,560.4 455.7,560.4 466.1,560.4 476.6,560.4 487.0,560.4 497.4,560.4 507.9,560.4 518.3,560.4 528.7,560.4 539.2,560.4 549.6,560.4 560.0,560.4 570.5,560.4 580.9,560.4 591.4,560.4 601.8,560.4 612.2,560.4 622.7,560.4 633.1,560.4 643.5,560.4 654.0,558.6 664.4,545.9 674.8,556.2 685.3,556.2 695.7,556.9 706.1,560.4 716.6,560.4 727.0,560.4 737.5,560.4 747.9,560.4 758.3,560.4 768.8,560.4 779.2,560.4 789.6,560.4 800.1,560.4 810.5,560.4" stroke="#0ab47d" stroke-width="0.9"/>
<polyline points="184.4,560.4 194.8,560.4 205.2,560.4 215.7,560.4 226.1,560.4 236.5,560.4 247.0,560.4 257.4,560.4 267.9,560.4 278.3,560.4 288.7,560.4 299.2,560.4 309.6,560.4 320.0,560.4 330.5,560.4 340.9,560.4 351.3,560.4 361.8,560.4 372.2,560.4 382.6,560.4 393.1,560.4 403.5,560.4 414.0,560.4 424.4,560.4 434.8,560.4 445.3,560.4 455.7,560.4 466.1,560.4 476.6,560.4 487.0,560.4 497.4,560.4 507.9,560.4 518.3,560.4 528.7,560.4 539.2,560.4 549.6,560.4 560.0,560.4 570.5,560.4 580.9,560.4 591.4,560.4 601.8,560.4 612.2,560.4 622.7,560.4 633.1,560.4 643.5,560.4 654.0,560.4 664.4,560.4 674.8,560.4 685.3,560.4 695.7,558.6 706.1,542.7 716.6,542.7 727.0,550.5 737.5,558.6 747.9,560.4 758.3,560.4 768.8,560.4 779.2,560.4 789.6,560.4 800.1,560.4 810.5,560.4" stroke="#00d700" stroke-width="0.9"/>
<polyline points="184.4,560.4 194.8,560.4 205.2,560.4 215.7,560.4 226.1,560.4 236.5,560.4 247.0,560.4 257.4,560.4 267.9,560.4 278.3,560.4 288.7,560.4 299.2,560.4 309.6,560.4 320.0,560.4 330.5,560.4 340.9,560.4 351.3,560.4 361.8,560.4 372.2,560.4 382.6,560.4 393.1,560.4 403.5,560.4 414.0,560.4 424.4,560.4 434.8,560.4 445.3,560.4 455.7,560.4 466.1,560.4 476.6,560.4 487.0,560.4 497.4,560.4 507.9,560.4 518.3,560.4 528.7,560.4 539.2,560.4 549.6,560.4 560.0,560.4 570.5,560.4 580.9,560.4 591.4,560.4 601.8,560.4 612.2,560.4 622.7,560.4 633.1,560.4 643.5,560.4 654.0,560.4 664.4,560.4 674.8,560.4 685.3,557.9 695.7,539.2 706.1,546.3 716.6,556.9 727.0,560.4 737.5,560.4 747.9,560.4 758.3,560.4 768.8,560.4 779.2,560.4 789.6,560.4 800.1,560.4 810.5,560.4" stroke="#d26e00" stroke-width="0.9"/>
<polyline points="184.4,560.4 194.8,560.4 205.2,560.4 215.7,560.4 226.1,560.4 236.5,560.4 247.0,560.4 257.4,560.4 267.9,560.4 278.3,560.4 288.7,560.4 299.2,560.4 309.6,560.4 320.0,560.4 330.5,560.4 340.9,560.4 351.3,560.4 361.8,560.4 372.2,560.4 382.6,560.4 393.1,560.4 403.5,560.4 414.0,560.4 424.4,560.4 434.8,560.4 445.3,560.4 455.7,560.4 466.1,560.4 476.6,560.4 487.0,560.4 497.4,560.4 507.9,560.4 518.3,560.4 528.7,560.4 539.2,560.4 549.6,560.4 560.0,560.4 570.5,560.4 580.9,560.4 591.4,560.4 601.8,560.4 612.2,560.4 622.7,560.4 633.1,560.4 643.5,560.4 654.0,560.4 664.4,560.4 674.8,560.4 685.3,560.4 695.7,560.4 706.1,560.4 716.6,558.6 727.0,535.3 737.5,539.2 747.9,542.7 758.3,549.8 768.8,556.9 779.2,560.4 789.6,560.4 800.1,560.4 810.5,560.4" stroke="#0a4bd7" stroke-width="0.9"/>
<polyline points="184.4,560.4 194.8,560.4 205.2,560.4 215.7,560.4 226.1,560.4 236.5,560.4 247.0,560.4 257.4,560.4 267.9,560.4 278.3,560.4 288.7,560.4 299.2,560.4 309.6,560.4 320.0,560.4 330.5,560.4 340.9,560.4 351.3,560.4 361.8,560.4 372.2,560.4 382.6,560.4 393.1,560.4 403.5,560.4 414.0,560.4 424.4,560.4 434.8,560.4 445.3,560.4 455.7,560.4 466.1,560.4 476.6,560.4 487.0,560.4 497.4,560.4 507.9,560.4 518.3,560.4 528.7,560.4 539.2,560.4 549.6,560.4 560.0,560.4 570.5,560.4 580.9,560.4 591.4,560.4 601.8,560.4 612.2,560.4 622.7,560.4 633.1,560.4 643.5,560.4 654.0,560.4 664.4,560.4 674.8,560.4 685.3,560.4 695.7,560.4 706.1,560.4 716.6,560.4 727.0,560.4 737.5,556.9 747.9,549.1 758.3,554.4 768.8,556.9 779.2,560.4 789.6,560.4 800.1,560.4 810.5,560.4" stroke="#0abec8" stroke-width="0.9"/>
<polyline points="184.4,560.4 194.8,560.4 205.2,560.4 215.7,560.4 226.1,560.4 236.5,560.4 247.0,560.4 257.4,560.4 267.9,560.4 278.3,560.4 288.7,560.4 299.2,560.4 309.6,560.4 320.0,560.4 330.5,560.4 340.9,560.4 351.3,560.4 361.8,560.4 372.2,560.4 382.6,560.4 393.1,560.4 403.5,560.4 414.0,560.4 424.4,560.4 434.8,560.4 445.3,560.4 455.7,560.4 466.1,560.4 476.6,560.4 487.0,560.4 497.4,560.4 507.9,560.4 518.3,560.4 528.7,560.4 539.2,560.4 549.6,560.4 560.0,560.4 570.5,560.4 580.9,560.4 591.4,560.4 601.8,560.4 612.2,560.4 622.7,560.4 633.1,560.4 643.5,560.4 654.0,560.4 664.4,560.4 674.8,560.4 685.3,560.4 695.7,560.4 706.1,560.4 716.6,560.4 727.0,560.4 737.5,546.3 747.9,538.5 758.3,532.1 768.8,559.3 779.2,560.4 789.6,560.4 800.1,560.4 810.5,560.4" stroke="#0ab446" stroke-width="0.9"/>
<polyline points="184.4,560.4 194.8,560.4 205.2,560.4 215.7,560.4 226.1,560.4 236.5,560.4 247.0,560.4 257.4,560.4 267.9,560.4 278.3,560.4 288.7,560.4 299.2,560.4 309.6,560.4 320.0,560.4 330.5,560.4 340.9,560.4 351.3,560.4 361.8,560.4 372.2,560.4 382.6,560.4 393.1,560.4 403.5,560.4 414.0,560.4 424.4,560.4 434.8,560.4 445.3,560.4 455.7,560.4 466.1,560.4 476.6,560.4 487.0,560.4 497.4,560.4 507.9,560.4 518.3,560.4 528.7,560.4 539.2,560.4 549.6,560.4 560.0,560.4 570.5,560.4 580.9,560.4 591.4,560.4 601.8,560.4 612.2,560.4 622.7,560.4 633.1,560.4 643.5,560.4 654.0,560.4 664.4,560.4 674.8,560.4 685.3,560.4 695.7,560.4 706.1,560.4 716.6,560.4 727.0,560.4 737.5,560.4 747.9,560.4 758.3,560.4 768.8,553.7 779.2,556.2 789.6,556.5 800.1,557.6 810.5,558.6" stroke="#c84b1e" stroke-width="0.9"/>
<polyline points="184.4,560.4 194.8,560.4 205.2,560.4 215.7,560.4 226.1,560.4 236.5,560.4 247.0,560.4 257.4,560.4 267.9,560.4 278.3,560.4 288.7,560.4 299.2,560.4 309.6,560.4 320.0,560.4 330.5,560.4 340.9,560.4 351.3,560.4 361.8,560.4 372.2,560.4 382.6,560.4 393.1,560.4 403.5,560.4 414.0,560.4 424.4,560.4 434.8,560.4 445.3,560.4 455.7,560.4 466.1,560.4 476.6,560.4 487.0,560.4 497.4,560.4 507.9,560.4 518.3,560.4 528.7,560.4 539.2,560.4 549.6,560.4 560.0,560.4 570.5,560.4 580.9,560.4 591.4,560.4 601.8,560.4 612.2,560.4 622.7,560.4 633.1,560.4 643.5,560.4 654.0,560.4 664.4,560.4 674.8,560.4 685.3,560.4 695.7,560.4 706.1,560.4 716.6,560.4 727.0,560.4 737.5,560.4 747.9,560.4 758.3,553.7 768.8,539.2 779.2,548.0 789.6,549.8 800.1,542.0 810.5,533.9" stroke="#0a96c8" stroke-width="0.9"/>
<polyline points="184.4,560.4 194.8,560.4 205.2,560.4 215.7,560.4 226.1,560.4 236.5,560.4 247.0,560.4 257.4,560.4 267.9,560.4 278.3,560.4 288.7,560.4 299.2,560.4 309.6,560.4 320.0,560.4 330.5,560.4 340.9,560.4 351.3,560.4 361.8,560.4 372.2,560.4 382.6,560.4 393.1,560.4 403.5,560.4 414.0,560.4 424.4,560.4 434.8,560.4 445.3,560.4 455.7,560.4 466.1,560.4 476.6,560.4 487.0,560.4 497.4,560.4 507.9,560.4 518.3,560.4 528.7,560.4 539.2,560.4 549.6,560.4 560.0,560.4 570.5,560.4 580.9,560.4 591.4,560.4 601.8,560.4 612.2,560.4 622.7,560.4 633.1,560.4 643.5,560.4 654.0,560.4 664.4,560.4 674.8,560.4 685.3,560.4 695.7,560.4 706.1,560.4 716.6,560.4 727.0,560.4 737.5,560.4 747.9,560.4 758.3,560.4 768.8,558.6 779.2,548.0 789.6,551.6 800.1,556.9 810.5,560.4" stroke="#0a96c8" stroke-width="0.9"/>
<polyline points="184.4,560.4 194.8,560.4 205.2,560.4 215.7,560.4 226.1,560.4 236.5,560.4 247.0,560.4 257.4,560.4 267.9,560.4 278.3,560.4 288.7,560.4 299.2,560.4 309.6,560.4 320.0,560.4 330.5,560.4 340.9,560.4 351.3,560.4 361.8,560.4 372.2,560.4 382.6,560.4 393.1,560.4 403.5,560.4 414.0,560.4 424.4,560.4 434.8,560.4 445.3,560.4 455.7,560.4 466.1,560.4 476.6,560.4 487.0,560.4 497.4,560.4 507.9,560.4 518.3,560.4 528.7,560.4 539.2,560.4 549.6,560.4 560.0,560.4 570.5,560.4 580.9,560.4 591.4,560.4 601.8,560.4 612.2,560.4 622.7,560.4 633.1,560.4 643.5,560.4 654.0,560.4 664.4,560.4 674.8,560.4 685.3,560.4 695.7,560.4 706.1,560.4 716.6,560.4 727.0,560.4 737.5,560.4 747.9,560.4 758.3,560.4 768.8,560.4 779.2,560.4 789.6,559.3 800.1,546.3 810.5,556.9" stroke="#0aaf5f" stroke-width="0.9"/>
<polyline points="184.4,560.4 194.8,560.4 205.2,560.4 215.7,560.4 226.1,560.4 236.5,560.4 247.0,560.4 257.4,560.4 267.9,560.4 278.3,560.4 288.7,560.4 299.2,560.4 309.6,560.4 320.0,560.4 330.5,560.4 340.9,560.4 351.3,560.4 361.8,560.4 372.2,560.4 382.6,560.4 393.1,560.4 403.5,560.4 414.0,560.4 424.4,560.4 434.8,560.4 445.3,560.4 455.7,560.4 466.1,560.4 476.6,560.4 487.0,560.4 497.4,560.4 507.9,560.4 518.3,560.4 528.7,560.4 539.2,560.4 549.6,560.4 560.0,560.4 570.5,560.4 580.9,560.4 591.4,560.4 601.8,560.4 612.2,560.4 622.7,560.4 633.1,560.4 643.5,560.4 654.0,560.4 664.4,560.4 674.8,560.4 685.3,560.4 695.7,560.4 706.1,560.4 716.6,560.4 727.0,560.4 737.5,560.4 747.9,560.4 758.3,560.4 768.8,560.4 779.2,560.4 789.6,560.4 800.1,558.6 810.5,530.4" stroke="#0a4bd7" stroke-width="0.9"/>
<polyline points="184.4,560.4 194.8,560.4 205.2,560.4 215.7,560.4 226.1,560.4 236.5,560.4 247.0,560.4 257.4,560.4 267.9,560.4 278.3,560.4 288.7,560.4 299.2,560.4 309.6,560.4 320.0,560.4 330.5,560.4 340.9,560.4 351.3,560.4 361.8,560.4 372.2,560.4 382.6,560.4 393.1,560.4 403.5,560.4 414.0,560.4 424.4,560.4 434.8,560.4 445.3,560.4 455.7,560.4 466.1,560.4 476.6,560.4 487.0,560.4 497.4,560.4 507.9,560.4 518.3,560.4 528.7,560.4 539.2,560.4 549.6,560.4 560.0,560.4 570.5,560.4 580.9,560.4 591.4,560.4 601.8,560.4 612.2,560.4 622.7,560.4 633.1,560.4 643.5,560.4 654.0,560.4 664.4,560.4 674.8,560.4 685.3,560.4 695.7,560.4 706.1,560.4 716.6,560.4 727.0,560.4 737.5,560.4 747.9,560.4 758.3,560.4 768.8,560.4 779.2,560.4 789.6,560.4 800.1,560.4 810.5,549.8" stroke="#d78c00" stroke-width="0.9"/>
<polyline points="184.4,560.4 194.8,560.4 205.2,560.4 215.7,560.4 226.1,560.4 236.5,560.4 247.0,560.4 257.4,560.4 267.9,560.4 278.3,560.4 288.7,560.4 299.2,560.4 309.6,560.4 320.0,560.4 330.5,560.4 340.9,560.4 351.3,560.4 361.8,560.4 372.2,560.4 382.6,560.4 393.1,560.4 403.5,560.4 414.0,560.4 424.4,560.4 434.8,560.4 445.3,560.4 455.7,560.4 466.1,560.4 476.6,560.4 487.0,560.4 497.4,560.4 507.9,560.4 518.3,560.4 528.7,560.4 539.2,560.4 549.6,560.4 560.0,560.4 570.5,560.4 580.9,560.4 591.4,560.4 601.8,560.4 612.2,560.4 622.7,553.3 633.1,546.3 643.5,528.6 654.0,517.3 664.4,394.3 674.8,502.8 685.3,492.9 695.7,549.8 706.1,551.6 716.6,559.0 727.0,560.4 737.5,560.4 747.9,560.4 758.3,560.4 768.8,560.4 779.2,560.4 789.6,560.4 800.1,560.4 810.5,560.4" stroke="#0000ff" stroke-width="3.2"/>
<polyline points="184.4,560.4 194.8,560.4 205.2,560.4 215.7,560.4 226.1,560.4 236.5,560.4 247.0,560.4 257.4,560.4 267.9,560.4 278.3,560.4 288.7,560.4 299.2,560.4 309.6,560.4 320.0,560.4 330.5,560.4 340.9,560.4 351.3,560.4 361.8,560.4 372.2,560.4 382.6,560.4 393.1,560.4 403.5,560.4 414.0,560.4 424.4,560.4 434.8,560.4 445.3,560.4 455.7,559.3 466.1,556.9 476.6,559.7 487.0,560.4 497.4,553.3 507.9,539.2 518.3,542.0 528.7,545.9 539.2,549.1 549.6,556.2 560.0,553.3 570.5,549.1 580.9,556.2 591.4,553.3 601.8,553.3 612.2,549.4 622.7,542.0 633.1,548.7 643.5,556.5 654.0,556.5 664.4,549.1 674.8,546.3 685.3,539.2 695.7,549.1 706.1,549.1 716.6,549.1 727.0,546.3 737.5,542.0 747.9,534.3 758.3,528.6 768.8,535.7 779.2,542.4 789.6,542.4 800.1,531.8 810.5,534.6" stroke="#f6f6f6" stroke-width="2.9"/>
<polyline points="184.4,560.4 194.8,560.4 205.2,560.4 215.7,560.4 226.1,560.4 236.5,560.4 247.0,560.4 257.4,560.4 267.9,560.4 278.3,560.4 288.7,560.4 299.2,560.4 309.6,560.4 320.0,560.4 330.5,560.4 340.9,560.4 351.3,560.4 361.8,560.4 372.2,560.4 382.6,560.4 393.1,560.4 403.5,560.4 414.0,560.4 424.4,560.4 434.8,560.4 445.3,560.4 455.7,560.4 466.1,560.4 476.6,560.4 487.0,560.4 497.4,560.4 507.9,560.4 518.3,560.4 528.7,560.4 539.2,560.4 549.6,560.4 560.0,560.4 570.5,560.4 580.9,560.4 591.4,560.4 601.8,560.4 612.2,560.4 622.7,560.4 633.1,560.4 643.5,560.4 654.0,560.4 664.4,560.4 674.8,560.4 685.3,560.4 695.7,560.4 706.1,560.4 716.6,560.4 727.0,560.4 737.5,560.4 747.9,560.4 758.3,560.4 768.8,560.4 779.2,560.4 789.6,560.4 800.1,560.4 810.5,560.4" stroke="#00e800" stroke-width="3.3"/>
</g>
<rect x="163.5" y="30.5" width="647" height="530" fill="none" stroke="#e4e4e4" stroke-width="1"/>
<g fill="#fff" font-size="10.4px">
<text x="154.3" y="562.9" text-anchor="end">0</text>
<text x="154.3" y="492.2" text-anchor="end">2</text>
<text x="154.3" y="421.6" text-anchor="end">4</text>
<text x="154.3" y="350.9" text-anchor="end">6</text>
<text x="154.3" y="280.3" text-anchor="end">8</text>
<text x="154.3" y="209.6" text-anchor="end">10</text>
<text x="154.3" y="138.9" text-anchor="end">12</text>
<text x="154.3" y="68.3" text-anchor="end">14</text>
<text x="162.1" y="576.6" text-anchor="middle">16Jan 00z</text>
<text x="245.5" y="576.6" text-anchor="middle">18Jan 00z</text>
<text x="328.9" y="576.6" text-anchor="middle">20Jan 00z</text>
<text x="412.4" y="576.6" text-anchor="middle">22Jan 00z</text>
<text x="495.8" y="576.6" text-anchor="middle">24Jan 00z</text>
<text x="579.2" y="576.6" text-anchor="middle">26Jan 00z</text>
<text x="662.6" y="576.6" text-anchor="middle">28Jan 00z</text>
<text x="746.0" y="576.6" text-anchor="middle">30Jan 00z</text>
<text x="486.3" y="592.7" text-anchor="middle" font-size="10.8px">Date (UTC)</text>
<text transform="translate(136.4 297) rotate(-90)" text-anchor="middle" font-size="10.8px">Neuschneehöhe (cm)</text>
</g>
<text x="435.5" y="17" text-anchor="middle" fill="#fff" font-size="16px" font-weight="bold">Pacsa&#160; (HU)&#160; Neuschneehöhe | Fri, 16Jan2026 06Z</text>
<text x="120" y="604" fill="#fff" font-size="16px">GFS Ensemble, 46.5N, 17E</text>
<text x="794" y="604" text-anchor="end" fill="#fff" font-size="16px">Wetterzentrale.de</text>
<g font-size="10.5px" fill="#fff">
<path d="M-2 41.0h10.9" stroke="#0a28dc" stroke-width="1.9"/>
<text x="9" y="43">P1</text>
<path d="M54 41.0h10.9" stroke="#0a4bd7" stroke-width="1.9"/>
<text x="65" y="43">P2</text>
<path d="M-2 56.0h10.9" stroke="#0a64d2" stroke-width="1.9"/>
<text x="9" y="58">P3</text>
<path d="M54 56.0h10.9" stroke="#0a96c8" stroke-width="1.9"/>
<text x="65" y="58">P4</text>
<path d="M-2 71.0h10.9" stroke="#0abec8" stroke-width="1.9"/>
<text x="9" y="73">P5</text>
<path d="M54 71.0h10.9" stroke="#0ab47d" stroke-width="1.9"/>
<text x="65" y="73">P6</text>
<path d="M-2 85.9h10.9" stroke="#0aaf5f" stroke-width="1.9"/>
<text x="9" y="88">P7</text>
<path d="M54 85.9h10.9" stroke="#0ab446" stroke-width="1.9"/>
<text x="65" y="88">P8</text>
<path d="M-2 100.9h10.9" stroke="#00c81e" stroke-width="1.9"/>
<text x="9" y="103">P9</text>
<path d="M54 100.9h10.9" stroke="#00d700" stroke-width="1.9"/>
<text x="65" y="103">P10</text>
<path d="M-2 115.9h10.9" stroke="#cdcd00" stroke-width="1.9"/>
<text x="9" y="118">P11</text>
<path d="M54 115.9h10.9" stroke="#d2b400" stroke-width="1.9"/>
<text x="65" y="118">P12</text>
<path d="M-2 130.9h10.9" stroke="#d2a000" stroke-width="1.9"/>
<text x="9" y="133">P13</text>
<path d="M54 130.9h10.9" stroke="#d78c00" stroke-width="1.9"/>
<text x="65" y="133">P14</text>
<path d="M-2 145.9h10.9" stroke="#dc8200" stroke-width="1.9"/>
<text x="9" y="148">P15</text>
<path d="M54 145.9h10.9" stroke="#c87800" stroke-width="1.9"/>
<text x="65" y="148">P16</text>
<path d="M-2 160.8h10.9" stroke="#d26e00" stroke-width="1.9"/>
<text x="9" y="163">P17</text>
<path d="M54 160.8h10.9" stroke="#c84b1e" stroke-width="1.9"/>
<text x="65" y="163">P18</text>
<path d="M-2 175.8h10.9" stroke="#be3228" stroke-width="1.9"/>
<text x="9" y="178">P19</text>
<path d="M54 175.8h10.9" stroke="#96141e" stroke-width="1.9"/>
<text x="65" y="178">P20</text>
<path d="M-2 190.8h10.9" stroke="#0a28dc" stroke-width="1.9"/>
<text x="9" y="193">P21</text>
<path d="M54 190.8h10.9" stroke="#0a4bd7" stroke-width="1.9"/>
<text x="65" y="193">P22</text>
<path d="M-2 205.8h10.9" stroke="#0a64d2" stroke-width="1.9"/>
<text x="9" y="208">P23</text>
<path d="M54 205.8h10.9" stroke="#0a96c8" stroke-width="1.9"/>
<text x="65" y="208">P24</text>
<path d="M-2 220.8h10.9" stroke="#0abec8" stroke-width="1.9"/>
<text x="9" y="223">P25</text>
<path d="M54 220.8h10.9" stroke="#0ab47d" stroke-width="1.9"/>
<text x="65" y="223">P26</text>
<path d="M-2 235.7h10.9" stroke="#0aaf5f" stroke-width="1.9"/>
<text x="9" y="238">P27</text>
<path d="M54 235.7h10.9" stroke="#0ab446" stroke-width="1.9"/>
<text x="65" y="238">P28</text>
<path d="M-2 250.7h10.9" stroke="#00c81e" stroke-width="1.9"/>
<text x="9" y="253">P29</text>
<path d="M54 250.7h10.9" stroke="#00d700" stroke-width="1.9"/>
<text x="65" y="253">P30</text>
<path d="M-2 266.9h10.9" stroke="#0000ff" stroke-width="2"/>
<text x="9" y="268.5">Control</text>
<path d="M54 266.9h10.9" stroke="#ffffff" stroke-width="2.4"/>
<text x="65" y="268.5">Ens. mean</text>
<path d="M-2 282.9h10.9" stroke="#00dc00" stroke-width="2"/>
<text x="9" y="284.5">Oper</text>
</g>
</svg></body></html>
